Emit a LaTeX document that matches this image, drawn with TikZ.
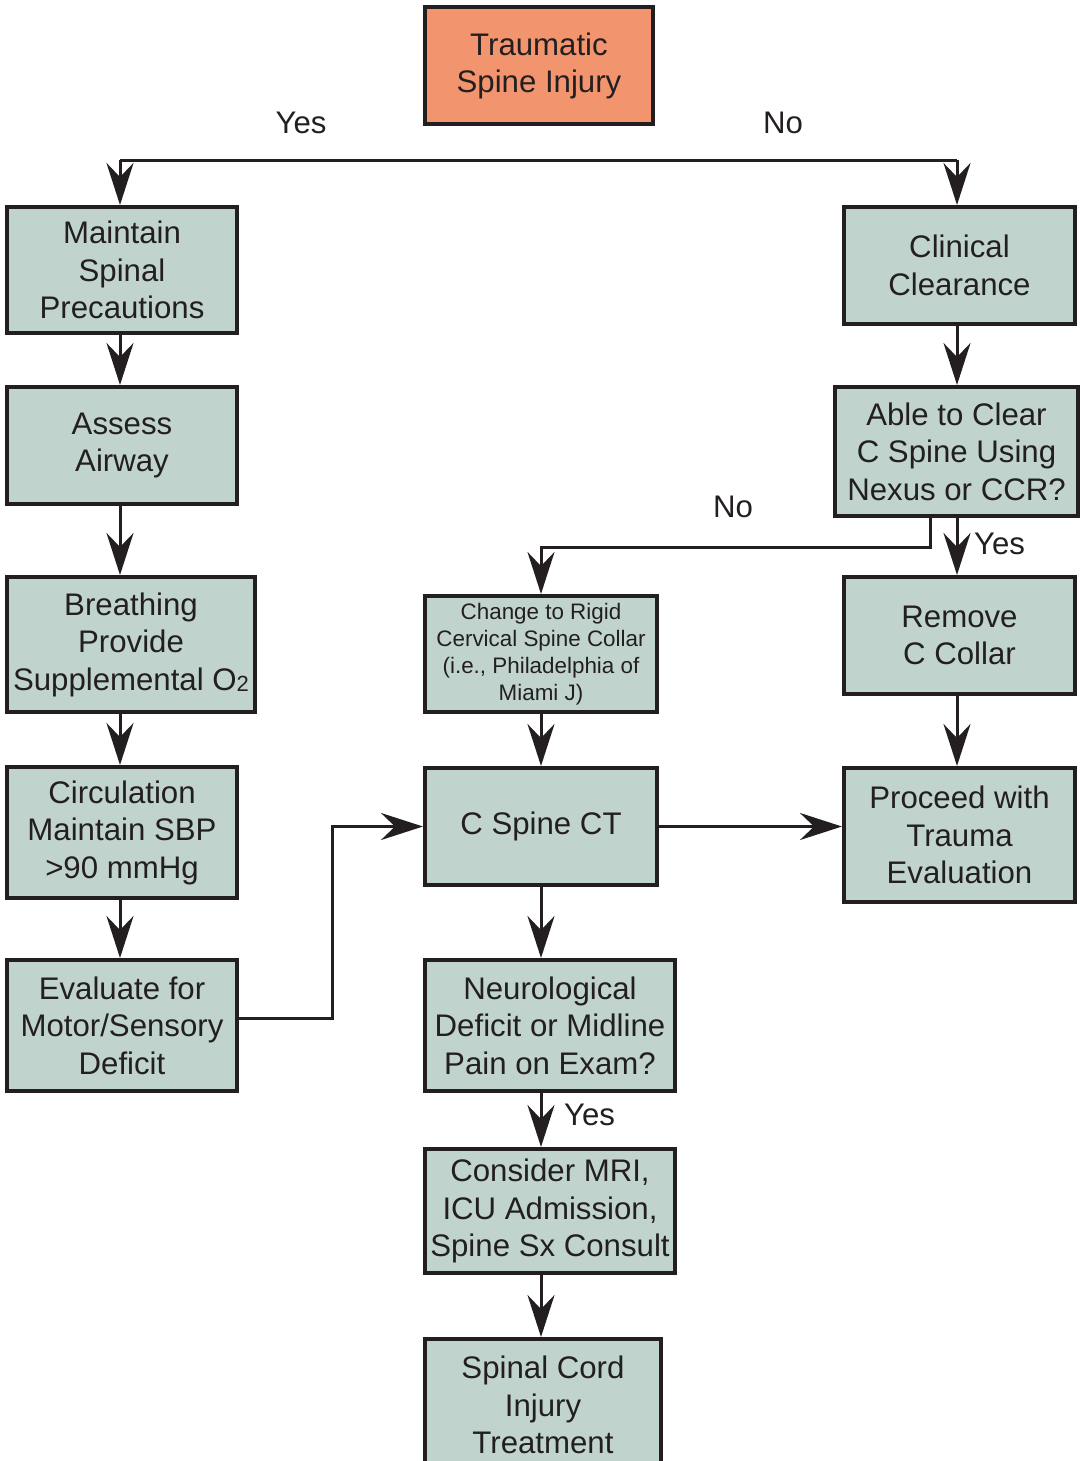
\documentclass[tikz,border=0pt]{standalone}
\usepackage{fontspec}
\setmainfont{Liberation Sans}
\usetikzlibrary{arrows.meta}

\definecolor{boxfill}{HTML}{C0D4CD}
\definecolor{startfill}{HTML}{F2956F}
\definecolor{ink}{HTML}{231F20}

\begin{document}
\begin{tikzpicture}[x=0.5pt, y=-0.5pt, >={Stealth[length=21pt, width=13.5pt, inset=7pt]},
    box/.style={draw=ink, fill=boxfill, line width=2pt, inner sep=0pt, align=center,
        text=ink, font=\fontsize{15.6}{18.75}\selectfont},
    small/.style={font=\fontsize{11.2}{13.4}\selectfont},
    arr/.style={->, draw=ink, line width=1.5pt},
    lbl/.style={text=ink, font=\fontsize{15.6}{18}\selectfont}]
    \useasboundingbox (0,0) rectangle (1080,1461);

    \node[box, fill=startfill, minimum width=114pt, minimum height=58.5pt] (start) at (539,66) {Traumatic\\Spine Injury};

    % left column
    \node[box, minimum width=115pt, minimum height=63pt] (maintain) at (122,270) {Maintain\\Spinal\\Precautions};
    \node[box, minimum width=115pt, minimum height=58.5pt] (airway) at (122,445.5) {Assess\\Airway};
    \node[box, minimum width=124pt, minimum height=67.5pt] (breathing) at (131,644.5) {Breathing\\Provide\\Supplemental O{\fontsize{11}{10}\selectfont\raisebox{-0.6pt}{2}}};
    \node[box, minimum width=115pt, minimum height=65.5pt] (circulation) at (122,832.5) {Circulation\\Maintain SBP\\>90 mmHg};
    \node[box, minimum width=115pt, minimum height=65.5pt] (evaluate) at (122,1025.5) {Evaluate for\\Motor/Sensory\\Deficit};

    % right column
    \node[box, minimum width=115.5pt, minimum height=58.5pt] (clinical) at (959.5,265.5) {Clinical\\Clearance};
    \node[box, minimum width=121.5pt, minimum height=64.5pt] (clear) at (956.5,451.5) {Able to Clear\\C Spine Using\\Nexus or CCR?};
    \node[box, minimum width=115.5pt, minimum height=58.5pt] (collar) at (959.5,635.5) {Remove\\C Collar};
    \node[box, minimum width=115.5pt, minimum height=67pt] (proceed) at (959.5,835) {Proceed with\\Trauma\\Evaluation};

    % middle column
    \node[box, small, minimum width=116pt, minimum height=58pt] (rigid) at (541,654) {Change to Rigid\\Cervical Spine Collar\\(i.e., Philadelphia of\\Miami J)};
    \node[box, minimum width=116pt, minimum height=58.5pt] (ct) at (541,826.5) {C Spine CT};
    \node[box, minimum width=125pt, minimum height=65.5pt] (neuro) at (550,1025.5) {Neurological\\Deficit or Midline\\Pain on Exam?};
    \node[box, minimum width=125pt, minimum height=62pt] (mri) at (550,1211) {Consider MRI,\\ICU Admission,\\Spine Sx Consult};
    \node[box, minimum width=118pt, minimum height=66pt] (cord) at (543,1405) {Spinal Cord\\Injury\\Treatment};

    % first split
    \coordinate (forkL) at (120,160);
    \coordinate (forkR) at (957,160);
    \draw[ink, line width=1.5pt] (forkL) -- (forkR);
    \draw[arr] (forkL) -- (forkL |- maintain.north);
    \draw[arr] (forkR) -- (forkR |- clinical.north);
    \node[lbl] (yes1) at (301,123) {Yes};
    \node[lbl] (no1) at (783,123) {No};

    \draw[arr] (maintain.south -| forkL) -- (forkL |- airway.north);
    \draw[arr] (airway.south -| forkL) -- (forkL |- breathing.north);
    \draw[arr] (breathing.south -| forkL) -- (forkL |- circulation.north);
    \draw[arr] (circulation.south -| forkL) -- (forkL |- evaluate.north);
    \draw[arr] ([yshift=3.5pt]evaluate.east) -| ++(93,0) |- (ct.west);

    \draw[arr] (clinical.south -| forkR) -- (forkR |- clear.north);
    \draw[arr] (clear.south -| forkR) -- (forkR |- collar.north) node[lbl, pos=0.45, right=4.5pt] {Yes};
    \draw[arr] ([xshift=-13pt]clear.south) -- ++(0,29) -| (rigid.north -| ct.north);
    \node[lbl] (no2) at (733,507) {No};
    \draw[arr] (collar.south -| forkR) -- (forkR |- proceed.north);

    \draw[arr] (rigid.south) -- (ct.north);
    \draw[arr] (ct.east) -- (proceed.west |- ct.east);
    \draw[arr] (ct.south) -- (ct.south |- neuro.north);
    \draw[arr] (neuro.south -| ct.south) -- (ct.south |- mri.north) node[lbl, pos=0.4, right=7.5pt] {Yes};
    \draw[arr] (mri.south -| ct.south) -- (ct.south |- cord.north);
\end{tikzpicture}
\end{document}
